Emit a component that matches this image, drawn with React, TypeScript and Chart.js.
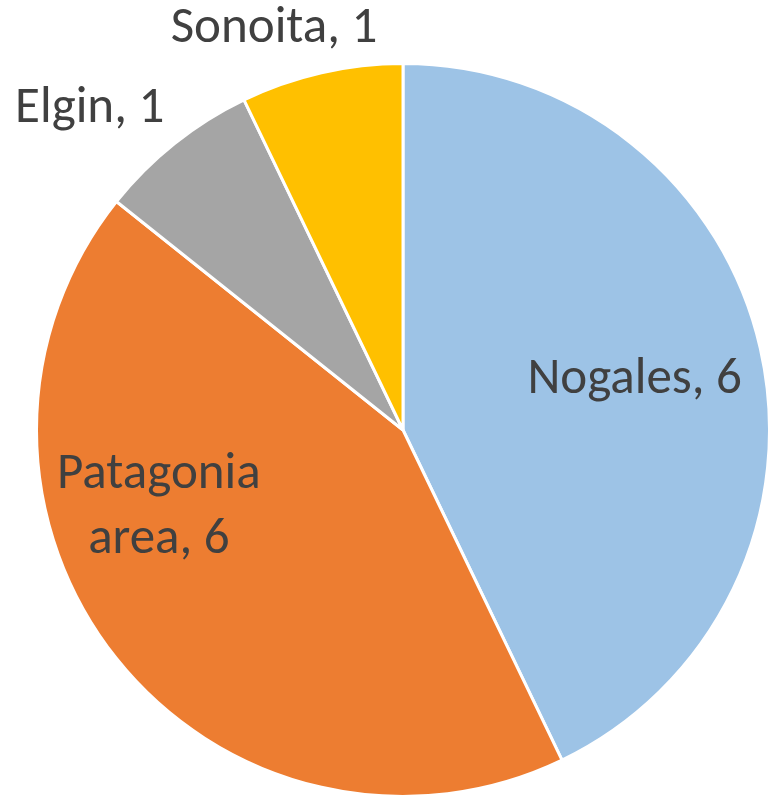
import React, { useEffect, useRef } from "react";
import { Chart, registerables } from "chart.js";

Chart.register(...registerables);

const categories = ["Nogales", "Patagonia area", "Elgin", "Sonoita"];
const values = [6, 6, 1, 1];
const colors = ["#9DC3E6", "#ED7D31", "#A5A5A5", "#FFC000"];
// label lines and anchor (fraction of radius from centre, baseline of first line)
const labelLines = [["Nogales, 6"], ["Patagonia", "area, 6"], ["Elgin, 1"], ["Sonoita, 1"]];
const labelAnchors = [
  [0.632, -0.101],
  [-0.666, 0.159],
  [-0.855, -0.841],
  [-0.352, -1.058],
];

const labelPlugin = {
  id: "pieLabels",
  afterDatasetsDraw(chart: any) {
    const ctx = chart.ctx;
    const meta = chart.getDatasetMeta(0);
    ctx.save();
    ctx.font = "51px Carlito, Calibri, Lato, sans-serif";
    ctx.fillStyle = "#404040";
    ctx.textAlign = "center";
    ctx.textBaseline = "alphabetic";
    meta.data.forEach((arc: any, i: number) => {
      const { x, y, outerRadius } = arc.getProps(["x", "y", "outerRadius"], true);
      const [fx, fy] = labelAnchors[i];
      labelLines[i].forEach((line, j) => {
        ctx.fillText(line, x + fx * outerRadius, y + fy * outerRadius + j * 65);
      });
    });
    ctx.restore();
  },
};

export default function App() {
  const ref = useRef<HTMLCanvasElement>(null);
  useEffect(() => {
    document.body.style.margin = "0";
    const chart = new Chart(ref.current!, {
      type: "pie",
      data: {
        labels: categories,
        datasets: [
          {
            data: values,
            backgroundColor: colors,
            borderColor: "#FFFFFF",
            borderWidth: 3,
            hoverOffset: 0,
          },
        ],
      },
      options: {
        animation: false,
        responsive: false,
        layout: { padding: { left: 35, right: 3, top: 62, bottom: 2 } },
        plugins: { legend: { display: false }, tooltip: { enabled: false } },
      },
      plugins: [labelPlugin],
    });
    return () => chart.destroy();
  }, []);
  return (
    <div style={{ width: 768, height: 796, overflow: "hidden" }}>
      <canvas ref={ref} width={774} height={800} style={{ display: "block" }} />
    </div>
  );
}
